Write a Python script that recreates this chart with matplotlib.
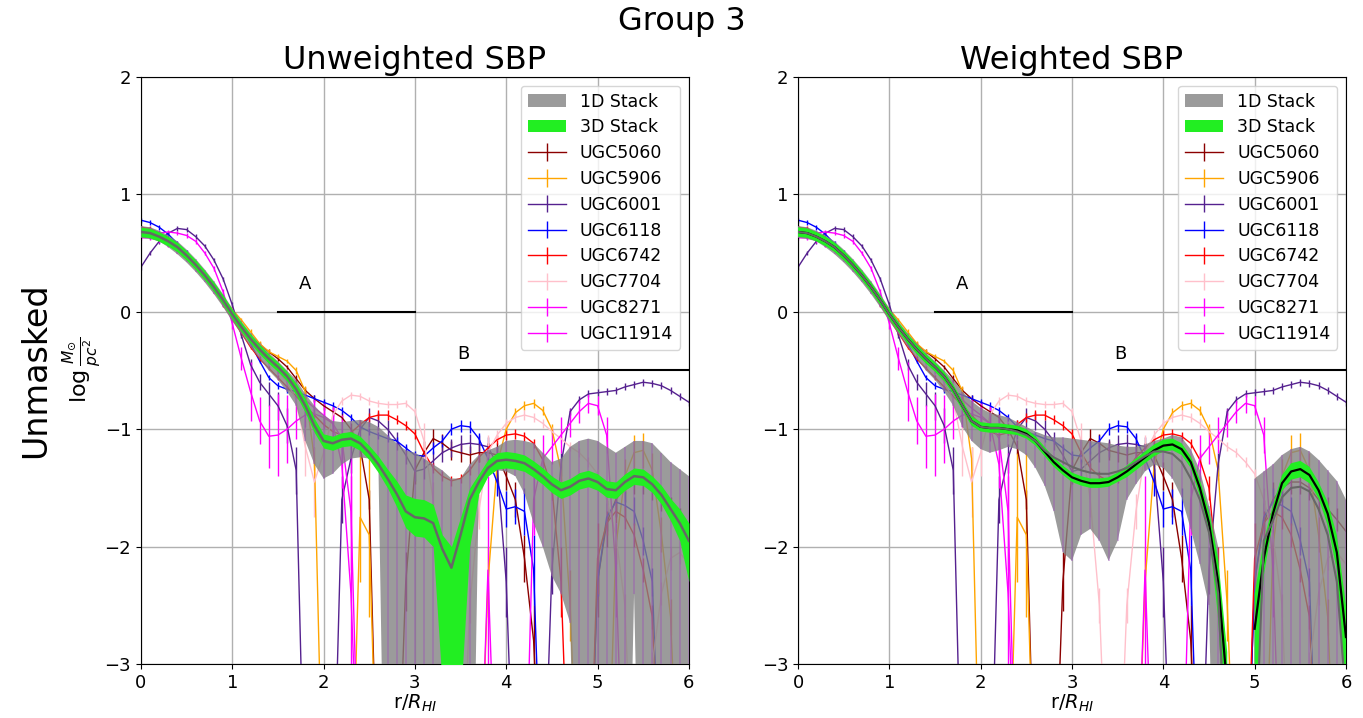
import numpy as np
import matplotlib
matplotlib.use("Agg")
import matplotlib.pyplot as plt

# ---------------- data ----------------
r = np.round(np.arange(0, 6.01, 0.1), 1)

names = ["UGC5060", "UGC5906", "UGC6001", "UGC6118", "UGC6742", "UGC7704", "UGC8271", "UGC11914"]
colors = ["darkred", "orange", "#55218f", "blue", "red", "pink", "magenta", "magenta"]

ugc5060 = [0.65, 0.64, 0.62, 0.58, 0.53, 0.46, 0.38, 0.29, 0.19, 0.08,
           -0.03, -0.13, -0.21, -0.28, -0.34, -0.40, -0.47, -0.57, -0.67, -0.74,
           -0.80, -0.85, -0.90, -1.00, -1.15, -1.60, -4.5, -4.5, -4.5, -2.30,
           -1.35, -1.20, -1.08, -1.12, -1.18, -1.20, -1.22, -1.20, -1.20, -1.22,
           -1.40, -1.60, -2.10, -2.80, -4.5, -4.5, -4.5, -4.5, -4.5, -4.5,
           -2.30, -1.80, -1.60, -1.50, -1.45, -1.45, -1.50, -1.60, -1.68, -1.77, -1.87]
ugc5906 = [0.70, 0.69, 0.66, 0.62, 0.56, 0.49, 0.41, 0.32, 0.22, 0.12,
           0.02, -0.07, -0.17, -0.27, -0.34, -0.38, -0.42, -0.50, -0.68, -1.25,
           -4.5, -4.5, -4.5, -4.5, -1.75, -1.90, -4.5, -4.5, -4.5, -4.5,
           -4.5, -4.5, -4.5, -4.5, -4.5, -4.5, -4.5, -4.5, -2.30, -1.30,
           -1.00, -0.86, -0.80, -0.78, -0.84, -1.00, -1.35, -2.50, -4.5, -4.5,
           -4.5, -4.5, -2.00, -1.40, -1.20, -1.18, -1.35, -1.90, -2.60, -4.5, -4.5]
ugc6001 = [0.38, 0.50, 0.60, 0.67, 0.71, 0.70, 0.64, 0.56, 0.44, 0.28,
           0.06, -0.20, -0.45, -0.60, -0.70, -0.80, -0.97, -1.35, -4.5, -4.5,
           -4.5, -4.5, -1.60, -1.25, -1.00, -0.90, -0.93, -1.00, -1.10, -1.22,
           -1.36, -1.34, -1.27, -1.20, -1.16, -1.13, -1.12, -1.13, -1.15, -1.30,
           -2.30, -4.5, -4.5, -4.5, -4.5, -2.20, -1.30, -0.85, -0.75, -0.70,
           -0.69, -0.68, -0.67, -0.64, -0.62, -0.60, -0.61, -0.63, -0.67, -0.72, -0.77]
ugc6118 = [0.78, 0.76, 0.72, 0.66, 0.58, 0.51, 0.41, 0.31, 0.22, 0.12,
           0.00, -0.13, -0.27, -0.42, -0.56, -0.63, -0.66, -0.68, -0.71, -0.74,
           -0.77, -0.80, -0.84, -0.90, -0.98, -1.02, -1.05, -1.08, -1.10, -1.16,
           -1.22, -1.23, -1.16, -1.10, -1.00, -0.97, -0.98, -1.08, -1.25, -1.45,
           -1.68, -1.66, -1.70, -2.20, -4.5, -4.5, -4.5, -4.5, -4.5, -4.5,
           -2.30, -1.75, -1.62, -1.65, -1.70, -1.95, -2.30, -4.5, -4.5, -4.5, -4.5]
ugc6742 = [0.72, 0.71, 0.67, 0.62, 0.56, 0.48, 0.39, 0.29, 0.18, 0.06,
           -0.06, -0.18, -0.30, -0.40, -0.48, -0.56, -0.64, -0.72, -0.80, -0.88,
           -0.96, -1.02, -1.05, -1.03, -0.96, -0.90, -0.88, -0.88, -0.92, -0.97,
           -1.04, -1.20, -1.33, -1.40, -1.44, -1.42, -1.35, -1.24, -1.16, -1.09,
           -1.05, -1.04, -1.06, -1.12, -1.26, -1.50, -2.30, -4.5, -4.5, -4.5,
           -2.10, -1.80, -1.70, -1.75, -1.90, -2.20, -2.60, -4.5, -4.5, -4.5, -4.5]
ugc7704 = [0.68, 0.66, 0.62, 0.57, 0.51, 0.44, 0.36, 0.27, 0.17, 0.07,
           -0.04, -0.14, -0.24, -0.33, -0.41, -0.50, -0.60, -0.75, -1.15, -1.45,
           -1.20, -0.88, -0.76, -0.71, -0.72, -0.76, -0.78, -0.79, -0.79, -0.78,
           -0.85, -1.10, -1.60, -2.50, -4.5, -4.5, -2.50, -1.70, -1.20, -1.05,
           -0.95, -0.90, -0.88, -0.90, -0.95, -1.02, -1.08, -1.15, -1.20, -1.28,
           -1.38, -1.60, -1.90, -2.50, -4.5, -4.5, -3.00, -2.40, -2.10, -2.05, -2.15]
ugc8271 = [0.66, 0.67, 0.67, 0.68, 0.67, 0.65, 0.60, 0.50, 0.37, 0.17,
           -0.10, -0.40, -0.68, -0.93, -1.06, -1.05, -1.00, -0.93, -0.88, -0.87,
           -0.90, -0.95, -1.08, -1.70, -4.5, -4.5, -4.5, -4.5, -4.5, -4.5,
           -4.5, -4.5, -4.5, -4.5, -4.5, -4.5, -4.5, -4.5, -4.5, -4.5,
           -4.5, -4.5, -4.5, -1.60, -1.25, -1.15, -1.05, -0.95, -0.85, -0.78,
           -0.80, -1.05, -2.20, -4.5, -4.5, -4.5, -4.5, -4.5, -4.5, -4.5, -4.5]
ugc11914 = [0.63, 0.63, 0.61, 0.57, 0.52, 0.45, 0.37, 0.28, 0.18, 0.07,
            -0.05, -0.15, -0.25, -0.34, -0.42, -0.50, -0.58, -0.66, -0.75, -0.82,
            -0.88, -0.95, -1.30, -2.40, -4.5, -4.5, -4.5, -4.5, -4.5, -4.5,
            -4.5, -4.5, -4.5, -4.5, -4.5, -4.5, -4.5, -4.5, -2.20, -4.5,
            -4.5, -4.5, -4.5, -4.5, -4.5, -4.5, -4.5, -4.5, -4.5, -4.5,
            -4.5, -4.5, -4.5, -4.5, -4.5, -4.5, -4.5, -4.5, -4.5, -4.5, -4.5]

err5060 = [0.02, 0.02, 0.02, 0.02, 0.02, 0.02, 0.02, 0.02, 0.02, 0.02,
           0.02, 0.02, 0.02, 0.02, 0.02, 0.02, 0.02, 0.03, 0.03, 0.03,
           0.04, 0.04, 0.04, 0.05, 0.06, 0.08, 0.3, 0.3, 0.3, 0.25,
           0.12, 0.10, 0.08, 0.08, 0.08, 0.08, 0.08, 0.08, 0.08, 0.10,
           0.12, 0.15, 0.20, 0.3, 0.3, 0.3, 0.3, 0.3, 0.3, 0.3,
           0.3, 0.20, 0.15, 0.12, 0.10, 0.10, 0.10, 0.10, 0.10, 0.10, 0.10]
err5906 = [0.02, 0.02, 0.02, 0.02, 0.02, 0.02, 0.02, 0.02, 0.02, 0.02,
           0.02, 0.02, 0.02, 0.02, 0.02, 0.02, 0.02, 0.03, 0.05, 0.10,
           0.3, 0.3, 0.3, 0.3, 0.55, 0.70, 0.3, 0.3, 0.3, 0.3,
           0.3, 0.3, 0.3, 0.3, 0.3, 0.3, 0.3, 0.3, 0.3, 0.06,
           0.04, 0.04, 0.04, 0.04, 0.04, 0.04, 0.08, 0.3, 0.3, 0.3,
           0.3, 0.3, 0.15, 0.15, 0.15, 0.15, 0.15, 0.15, 0.15, 0.3, 0.3]
err6001 = [0.02, 0.02, 0.02, 0.02, 0.02, 0.02, 0.02, 0.02, 0.02, 0.02,
           0.02, 0.02, 0.05, 0.07, 0.10, 0.12, 0.15, 0.20, 0.3, 0.3,
           0.3, 0.3, 0.20, 0.12, 0.08, 0.08, 0.08, 0.08, 0.08, 0.08,
           0.08, 0.08, 0.08, 0.08, 0.08, 0.08, 0.08, 0.08, 0.08, 0.15,
           0.3, 0.3, 0.3, 0.3, 0.3, 0.20, 0.10, 0.03, 0.03, 0.03,
           0.03, 0.03, 0.03, 0.03, 0.03, 0.03, 0.03, 0.03, 0.03, 0.03, 0.03]
err6118 = [0.02, 0.02, 0.02, 0.02, 0.02, 0.02, 0.02, 0.02, 0.02, 0.02,
           0.02, 0.02, 0.02, 0.02, 0.02, 0.03, 0.03, 0.03, 0.03, 0.03,
           0.03, 0.03, 0.03, 0.03, 0.03, 0.03, 0.03, 0.03, 0.03, 0.03,
           0.03, 0.05, 0.05, 0.05, 0.05, 0.05, 0.05, 0.05, 0.08, 0.12,
           0.15, 0.15, 0.20, 0.3, 0.3, 0.3, 0.3, 0.3, 0.3, 0.3,
           0.12, 0.12, 0.12, 0.12, 0.12, 0.12, 0.12, 0.3, 0.3, 0.3, 0.3]
err6742 = [0.02, 0.02, 0.02, 0.02, 0.02, 0.02, 0.02, 0.02, 0.02, 0.02,
           0.02, 0.02, 0.02, 0.02, 0.02, 0.02, 0.02, 0.02, 0.02, 0.02,
           0.02, 0.02, 0.02, 0.02, 0.04, 0.04, 0.04, 0.04, 0.04, 0.04,
           0.04, 0.04, 0.04, 0.04, 0.04, 0.04, 0.04, 0.04, 0.04, 0.04,
           0.04, 0.04, 0.04, 0.04, 0.06, 0.10, 0.3, 0.3, 0.3, 0.3,
           0.3, 0.10, 0.10, 0.10, 0.10, 0.10, 0.10, 0.3, 0.3, 0.3, 0.3]
err7704 = [0.02, 0.02, 0.02, 0.02, 0.02, 0.02, 0.02, 0.02, 0.02, 0.02,
           0.02, 0.02, 0.02, 0.02, 0.02, 0.02, 0.02, 0.10, 0.25, 0.30,
           0.20, 0.03, 0.03, 0.03, 0.03, 0.03, 0.03, 0.03, 0.03, 0.03,
           0.03, 0.15, 0.15, 0.15, 0.15, 0.15, 0.15, 0.15, 0.15, 0.04,
           0.04, 0.04, 0.04, 0.04, 0.04, 0.04, 0.04, 0.04, 0.04, 0.04,
           0.04, 0.10, 0.10, 0.10, 0.10, 0.10, 0.10, 0.10, 0.10, 0.10, 0.10]
err8271 = [0.02, 0.02, 0.02, 0.02, 0.02, 0.02, 0.02, 0.02, 0.02, 0.02,
           0.05, 0.10, 0.25, 0.20, 0.27, 0.35, 0.29, 0.15, 0.10, 0.10,
           0.10, 0.12, 0.20, 0.50, 0.3, 0.3, 0.3, 0.3, 0.3, 0.3,
           0.3, 0.3, 0.3, 0.3, 0.3, 0.3, 0.3, 0.3, 0.3, 0.3,
           0.3, 0.3, 0.3, 0.30, 0.20, 0.15, 0.15, 0.12, 0.10, 0.08,
           0.08, 0.15, 0.40, 0.3, 0.3, 0.3, 0.3, 0.3, 0.3, 0.3, 0.3]
err11914 = [0.02, 0.02, 0.02, 0.02, 0.02, 0.02, 0.02, 0.02, 0.02, 0.02,
            0.02, 0.02, 0.02, 0.02, 0.02, 0.02, 0.02, 0.02, 0.05, 0.08,
            0.10, 0.15, 0.20, 1.00, 0.3, 0.3, 0.3, 0.3, 0.3, 0.3,
            0.3, 0.3, 0.3, 0.3, 0.3, 0.3, 0.3, 0.3, 0.80, 0.3,
            0.3, 0.3, 0.3, 0.3, 0.3, 0.3, 0.3, 0.3, 0.3, 0.3,
            0.3, 0.3, 0.3, 0.3, 0.3, 0.3, 0.3, 0.3, 0.3, 0.3, 0.3]

series = [ugc5060, ugc5906, ugc6001, ugc6118, ugc6742, ugc7704, ugc8271, ugc11914]
errors = [err5060, err5906, err6001, err6118, err6742, err7704, err8271, err11914]

nan = np.nan
# --- Unweighted stacks ---
uw1d_hi = [0.73, 0.72, 0.69, 0.65, 0.60, 0.53, 0.45, 0.36, 0.26, 0.15,
           0.03, -0.08, -0.18, -0.27, -0.35, -0.42, -0.50, -0.58, -0.70, -0.80,
           -0.88, -0.93, -0.94, -0.93, -0.92, -0.94, -0.98, -1.05, -1.12, -1.18,
           -1.20, -1.25, -1.30, -1.35, -1.42, -1.42, -1.30, -1.22, -1.18, -1.15,
           -1.10, -1.09, -1.10, -1.12, -1.20, -1.28, -1.25, -1.15, -1.10, -1.08,
           -1.10, -1.15, -1.20, -1.15, -1.10, -1.10, -1.12, -1.20, -1.28, -1.34, -1.40]
uw1d_lo = [0.63, 0.62, 0.60, 0.55, 0.49, 0.42, 0.34, 0.25, 0.15, 0.04,
           -0.08, -0.19, -0.30, -0.40, -0.50, -0.58, -0.68, -0.80, -1.10, -1.30,
           -1.42, -1.38, -1.30, -1.25, -1.24, -1.25, -1.28, -6.0, -6.0, -6.0,
           -6.0, -6.0, -6.0, -6.0, -6.0, -6.0, -6.0, -1.50, -1.40, -1.35,
           -1.36, -1.40, -1.55, -1.80, -2.00, -2.25, -2.40, -2.65, -6.0, -6.0,
           -6.0, -6.0, -6.0, -6.0, -2.40, -6.0, -6.0, -6.0, -6.0, -6.0, -6.0]
uw3d_mid = [0.68, 0.67, 0.64, 0.60, 0.55, 0.48, 0.40, 0.31, 0.21, 0.10,
            -0.02, -0.13, -0.23, -0.32, -0.40, -0.47, -0.55, -0.66, -0.80, -0.97,
            -1.10, -1.12, -1.09, -1.08, -1.12, -1.20, -1.30, -1.42, -1.55, -1.70,
            -1.75, -1.76, -1.80, -2.02, -2.18, -1.90, -1.60, -1.45, -1.33, -1.27,
            -1.26, -1.27, -1.29, -1.34, -1.40, -1.47, -1.52, -1.49, -1.44, -1.42,
            -1.45, -1.51, -1.52, -1.45, -1.40, -1.41, -1.47, -1.56, -1.68, -1.80, -1.95]
uw3d_hi = [0.72, 0.71, 0.68, 0.64, 0.59, 0.52, 0.44, 0.35, 0.25, 0.14,
           0.02, -0.09, -0.19, -0.28, -0.36, -0.43, -0.51, -0.61, -0.74, -0.91,
           -1.04, -1.06, -1.03, -1.02, -1.06, -1.14, -1.23, -1.34, -1.44, -1.56,
           -1.59, -1.60, -1.64, -1.90, -2.00, -1.75, -1.50, -1.38, -1.26, -1.20,
           -1.19, -1.20, -1.22, -1.27, -1.33, -1.40, -1.45, -1.42, -1.37, -1.35,
           -1.38, -1.44, -1.45, -1.38, -1.33, -1.34, -1.40, -1.48, -1.59, -1.68, -1.80]
uw3d_lo = [0.64, 0.63, 0.60, 0.56, 0.51, 0.44, 0.36, 0.27, 0.17, 0.06,
           -0.06, -0.17, -0.27, -0.36, -0.44, -0.51, -0.59, -0.71, -0.86, -1.03,
           -1.16, -1.18, -1.15, -1.14, -1.18, -1.26, -1.37, -1.50, -1.66, -1.84,
           -1.91, -1.92, -2.00, -3.20, -4.00, -3.30, -2.00, -1.55, -1.40, -1.34,
           -1.33, -1.34, -1.36, -1.41, -1.47, -1.54, -1.59, -1.56, -1.51, -1.49,
           -1.52, -1.58, -1.59, -1.52, -1.47, -1.48, -1.54, -1.64, -1.78, -1.95, -2.30]

# --- Weighted stacks ---
w1d_hi = [0.73, 0.72, 0.69, 0.65, 0.60, 0.53, 0.45, 0.36, 0.26, 0.15,
          0.03, -0.08, -0.18, -0.27, -0.35, -0.42, -0.50, -0.58, -0.68, -0.76,
          -0.82, -0.86, -0.88, -0.90, -0.94, -0.98, -1.02, -1.05, -1.07, -1.07,
          -1.08, -1.09, -1.10, -1.11, -1.12, -1.14, -1.15, -1.15, -1.13, -1.10,
          -1.08, -1.05, -1.07, -1.17, -1.35, -1.65, -2.00, -4.50, nan, nan,
          -1.42, -1.36, -1.30, -1.22, -1.17, -1.15, -1.19, -1.26, -1.35, -1.44, -1.60]
w1d_lo = [0.63, 0.62, 0.60, 0.55, 0.49, 0.42, 0.34, 0.25, 0.15, 0.04,
          -0.08, -0.19, -0.30, -0.40, -0.50, -0.58, -0.68, -0.80, -0.98, -1.10,
          -1.17, -1.20, -1.18, -1.15, -1.17, -1.22, -1.33, -1.48, -1.70, -2.05,
          -2.12, -1.90, -1.85, -1.95, -2.12, -1.95, -1.60, -1.47, -1.36, -1.30,
          -1.33, -1.42, -1.58, -1.85, -2.15, -2.50, -6.00, -6.00, nan, nan,
          -6.00, -6.00, -6.00, -6.00, -6.00, -6.00, -6.00, -6.00, -6.00, -6.00, -6.00]
w1d_mid = [0.68, 0.67, 0.64, 0.60, 0.55, 0.48, 0.40, 0.31, 0.21, 0.10,
           -0.02, -0.13, -0.23, -0.32, -0.40, -0.47, -0.55, -0.66, -0.80, -0.93,
           -0.98, -0.99, -0.99, -1.00, -1.02, -1.05, -1.10, -1.18, -1.24, -1.28,
           -1.32, -1.35, -1.37, -1.38, -1.38, -1.36, -1.33, -1.28, -1.23, -1.19,
           -1.19, -1.21, -1.28, -1.42, -1.60, -1.88, -2.40, -4.00, nan, nan,
           -4.00, -1.95, -1.78, -1.58, -1.50, -1.49, -1.53, -1.68, -1.90, -2.30, -3.30]
w3d_mid = [0.68, 0.67, 0.64, 0.60, 0.55, 0.48, 0.40, 0.31, 0.21, 0.10,
           -0.02, -0.13, -0.23, -0.32, -0.40, -0.47, -0.55, -0.66, -0.80, -0.93,
           -0.98, -0.99, -0.99, -1.00, -1.01, -1.04, -1.10, -1.19, -1.28, -1.35,
           -1.41, -1.44, -1.46, -1.46, -1.45, -1.41, -1.36, -1.30, -1.24, -1.18,
           -1.14, -1.13, -1.17, -1.28, -1.50, -1.80, -2.30, -3.20, nan, nan,
           -2.70, -2.10, -1.72, -1.46, -1.36, -1.34, -1.39, -1.52, -1.72, -2.05, -2.77]
w3d_hi = [0.72, 0.71, 0.68, 0.64, 0.59, 0.52, 0.44, 0.35, 0.25, 0.14,
          0.02, -0.09, -0.19, -0.28, -0.36, -0.43, -0.51, -0.62, -0.76, -0.89,
          -0.94, -0.95, -0.95, -0.96, -0.97, -1.00, -1.06, -1.15, -1.24, -1.31,
          -1.37, -1.40, -1.42, -1.42, -1.41, -1.37, -1.31, -1.25, -1.19, -1.13,
          -1.09, -1.08, -1.12, -1.23, -1.43, -1.70, -2.10, -2.90, nan, nan,
          -2.40, -1.95, -1.65, -1.39, -1.29, -1.27, -1.32, -1.45, -1.62, -1.90, -2.50]
w3d_lo = [0.64, 0.63, 0.60, 0.56, 0.51, 0.44, 0.36, 0.27, 0.17, 0.06,
          -0.06, -0.17, -0.27, -0.36, -0.44, -0.51, -0.59, -0.70, -0.84, -0.97,
          -1.02, -1.03, -1.03, -1.04, -1.05, -1.08, -1.14, -1.23, -1.32, -1.39,
          -1.45, -1.48, -1.50, -1.50, -1.49, -1.45, -1.41, -1.35, -1.29, -1.23,
          -1.19, -1.18, -1.22, -1.33, -1.57, -1.90, -2.60, -4.00, nan, nan,
          -3.50, -2.25, -1.79, -1.53, -1.43, -1.41, -1.46, -1.59, -1.82, -2.20, -3.50]

legend_labels = ["1D Stack", "3D Stack"] + names

# ---------------- figure ----------------
fig = plt.figure(figsize=(13.63, 7.18), dpi=100)
ax1 = fig.add_axes([0.1034, 0.0752, 0.402, 0.8176])
ax2 = fig.add_axes([0.5855, 0.0752, 0.402, 0.8176])

GRAY = "#828282"
GREEN = "#22ee22"
VPURPLE = "#9b4fb8"


def draw_panel(ax, g_hi, g_lo, gr_hi, gr_lo, mid_gray, mid_black, title):
    handles = []
    for ys, es, c, n in zip(series, errors, colors, names):
        h = ax.errorbar(r, ys, yerr=es, color=c, lw=1.0, elinewidth=1.0,
                        capsize=0, zorder=2, label=n)
        handles.append(h)
    g_hi = np.array(g_hi, float)
    g_lo = np.array(g_lo, float)
    fb1 = ax.fill_between(r, g_lo, g_hi, color=GRAY, alpha=0.8, lw=0,
                          zorder=3, label="1D Stack")
    ok = ~np.isnan(g_hi)
    ax.vlines(r[ok], g_lo[ok], g_hi[ok], color=VPURPLE, alpha=0.45, lw=1.2, zorder=3.5)
    fb2 = ax.fill_between(r, gr_lo, gr_hi, color=GREEN, alpha=1.0, lw=0,
                          zorder=4, label="3D Stack")
    if mid_black is not None:
        ax.plot(r, mid_black, color="black", lw=1.6, zorder=5)
    ax.plot(r, mid_gray, color="#676767", lw=1.8 if mid_black is None else 1.5, zorder=5.5)

    # annotation segments
    ax.plot([1.5, 3.0], [0, 0], color="black", lw=1.5, zorder=6)
    ax.text(1.8, 0.24, "A", fontsize=13, ha="center", va="center")
    ax.plot([3.5, 6.0], [-0.5, -0.5], color="black", lw=1.5, zorder=6)
    ax.text(3.53, -0.36, "B", fontsize=13, ha="center", va="center")

    ax.set_xlim(0, 6)
    ax.set_ylim(-3, 2)
    ax.set_xticks(range(0, 7))
    ax.set_yticks(range(-3, 3))
    ax.tick_params(labelsize=13)
    ax.grid(True, color="#b0b0b0", lw=1.0)
    ax.set_axisbelow(True)
    ax.set_xlabel(r"r/$R_{HI}$", fontsize=14, labelpad=1)
    ax.set_title(title, fontsize=23)
    ax.legend([fb1, fb2] + handles, legend_labels, loc="upper right",
              fontsize=12.5, labelspacing=0.45, handlelength=2.2)


draw_panel(ax1, uw1d_hi, uw1d_lo, uw3d_hi, uw3d_lo, uw3d_mid, None, "Unweighted SBP")
draw_panel(ax2, w1d_hi, w1d_lo, w3d_hi, w3d_lo, w1d_mid, w3d_mid, "Weighted SBP")

ax1.set_ylabel(r"$\log\frac{M_{\odot}}{pc^2}$", fontsize=16)
ax1.yaxis.set_label_coords(-0.068, 0.5)
fig.text(0.5, 0.970, "Group 3", fontsize=23, ha="center", va="center")
fig.text(0.026, 0.485, "Unmasked", fontsize=24, rotation=90, ha="center", va="center")

fig.savefig("out.png", dpi=100)
